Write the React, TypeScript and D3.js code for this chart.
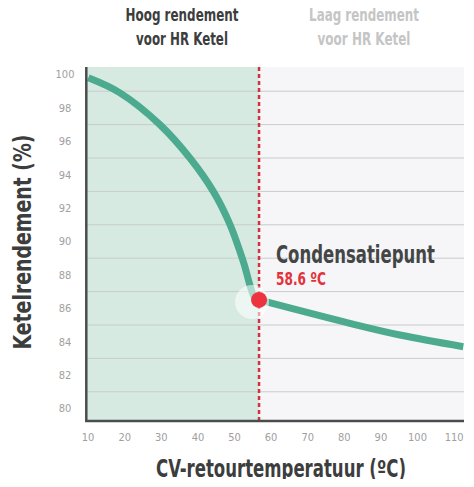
import React, { useEffect, useRef } from "react";
import * as d3 from "d3";

// axis ticks
const tempTicks = [10, 20, 30, 40, 50, 60, 70, 80, 90, 100, 110];
const rendementTicks = [80, 82, 84, 86, 88, 90, 92, 94, 96, 98, 100];
const gridLevels = [81, 83, 85, 87, 89, 91, 93, 95, 97, 99];

// efficiency curve
const curveTemp = [10.05, 18.7, 29.6, 37.8, 44.2, 48.8, 52.4, 55.6, 56.7];
const curveRendement = [99.8, 98.9, 97.0, 95.0, 93.0, 91.0, 88.8, 86.6, 86.5];
const tailTemp = [56.7, 81.5, 95.2, 112.5];
const tailRendement = [86.5, 85.1, 84.4, 83.7];

const condensTemp = 56.7;
const condensRendement = 86.5;
const condensLabel = "Condensatiepunt";
const condensValue = "58.6 \u00baC";

const zoneHigh = ["Hoog rendement", "voor HR Ketel"];
const zoneLow = ["Laag rendement", "voor HR Ketel"];
const xTitle = "CV-retourtemperatuur (\u00baC)";
const yTitle = "Ketelrendement (%)";

const FONT = "'DejaVu Sans Condensed', 'Liberation Sans Narrow', Roboto, sans-serif";

export default function App() {
  const svgRef = useRef<SVGSVGElement>(null);

  useEffect(() => {
    if (!svgRef.current) return;
    const svg = d3.select(svgRef.current);
    svg.selectAll("*").remove();

    const x = d3.scaleLinear().domain([9.5, 112.7]).range([86.3, 464]);
    const y = d3.scaleLinear().domain([79.25, 100.45]).range([421, 67]);
    const [x0, x1] = x.range();
    const [yb, yt] = y.range();

    // zones
    svg.append("rect")
      .attr("x", x0).attr("y", yt)
      .attr("width", x(condensTemp) - x0).attr("height", yb - yt)
      .attr("fill", "#d6eae2");
    svg.append("rect")
      .attr("x", x(condensTemp)).attr("y", yt)
      .attr("width", x1 - x(condensTemp)).attr("height", yb - yt)
      .attr("fill", "#f6f6f8");

    // grid
    svg.append("g").selectAll("line")
      .data(gridLevels)
      .enter().append("line")
      .attr("x1", x0).attr("x2", x1)
      .attr("y1", d => y(d)).attr("y2", d => y(d))
      .attr("stroke", "#c9cccb")
      .attr("stroke-width", 1);

    // condensation line
    svg.append("line")
      .attr("x1", x(condensTemp)).attr("x2", x(condensTemp))
      .attr("y1", yt).attr("y2", yb)
      .attr("stroke", "#d3313e")
      .attr("stroke-width", 2.5)
      .attr("stroke-dasharray", "4,3");

    // curve
    const line = d3.line<number>()
      .x(d => x(d))
      .curve(d3.curveCatmullRom.alpha(0.5));
    svg.append("path")
      .attr("d", line.y((_, i) => y(curveRendement[i]))(curveTemp))
      .attr("fill", "none")
      .attr("stroke", "#4caa8e")
      .attr("stroke-width", 7);
    svg.append("path")
      .attr("d", line.y((_, i) => y(tailRendement[i]))(tailTemp))
      .attr("fill", "none")
      .attr("stroke", "#4caa8e")
      .attr("stroke-width", 7);

    // halo + point
    svg.append("circle")
      .attr("cx", x(condensTemp) - 7).attr("cy", y(condensRendement) + 2)
      .attr("r", 17)
      .attr("fill", "#ffffff")
      .attr("opacity", 0.55);
    svg.append("circle")
      .attr("cx", x(condensTemp)).attr("cy", y(condensRendement))
      .attr("r", 8)
      .attr("fill", "#ee3340");

    // axes lines
    svg.append("path")
      .attr("d", `M${x0},${yt}V${yb}H${x1}`)
      .attr("fill", "none")
      .attr("stroke", "#4a4d4c")
      .attr("stroke-width", 2.5);

    // tick labels
    svg.append("g").selectAll("text")
      .data(rendementTicks)
      .enter().append("text")
      .attr("x", 65).attr("y", d => y(d))
      .attr("dy", "0.36em")
      .attr("text-anchor", "middle")
      .attr("font-family", FONT)
      .attr("font-size", 11)
      .attr("fill", "#a0a0a0")
      .text(d => d);
    svg.append("g").selectAll("text")
      .data(tempTicks)
      .enter().append("text")
      .attr("x", d => x(d)).attr("y", 441)
      .attr("text-anchor", "middle")
      .attr("font-family", FONT)
      .attr("font-size", 11)
      .attr("fill", "#a0a0a0")
      .text(d => d);

    // bold label squeezed horizontally to the width seen in the reference
    const label = (txt: string, px: number, py: number, size: number, len: number, fill: string,
      anchor = "middle", rotate = 0) => {
      const t = svg.append("text")
        .attr("text-anchor", anchor)
        .attr("font-family", FONT)
        .attr("font-weight", "bold")
        .attr("font-size", size)
        .attr("fill", fill)
        .text(txt);
      const natural = (t.node() as SVGTextElement).getComputedTextLength() || len;
      const sx = Math.min(1, len / natural);
      t.attr("transform", `translate(${px},${py}) rotate(${rotate}) scale(${sx},1)`);
      return t;
    };

    // zone headings
    label(zoneHigh[0], 182, 21, 17, 113, "#3c3d3d");
    label(zoneHigh[1], 182, 45, 17, 92, "#3c3d3d");
    label(zoneLow[0], 364, 21, 17, 110, "#c5c5c5");
    label(zoneLow[1], 364, 45, 17, 93, "#c5c5c5");

    // condensation annotation
    label(condensLabel, 276, 263, 24, 159, "#444646", "start");
    label(condensValue, 276, 285, 17, 50, "#e2323b", "start");

    // axis titles
    label(xTitle, 281, 477, 24, 250, "#3c3d3d");
    label(yTitle, 31, 242, 25, 215, "#3c3d3d", "middle", -90);
  }, []);

  return (
    <div style={{ margin: -8, width: 474, height: 487, background: "#ffffff" }}>
      <svg ref={svgRef} width={474} height={487} viewBox="0 0 474 487" style={{ display: "block" }} />
    </div>
  );
}
